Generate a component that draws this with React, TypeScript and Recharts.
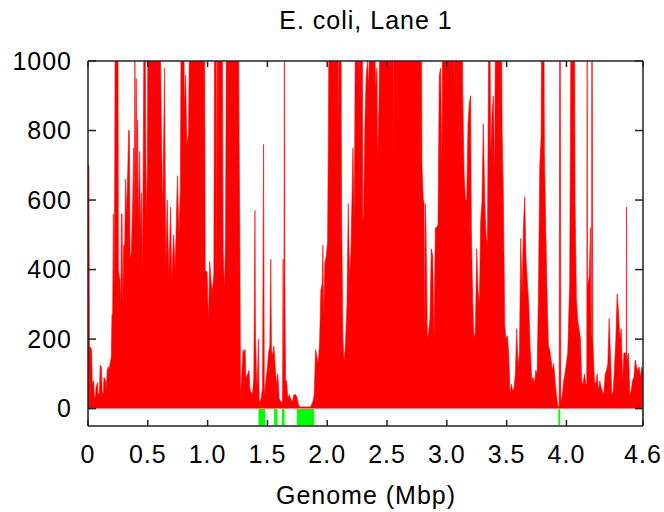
import { AreaChart, Area, XAxis, YAxis, ReferenceArea } from 'recharts'

// genome position (Mbp) and read depth; values above 1000 are clipped peaks
const mbp = [
  0.0, 0.008, 0.012, 0.03, 0.036, 0.048, 0.052, 0.062, 0.066, 0.08,
  0.084, 0.095, 0.102, 0.112, 0.118, 0.128, 0.133, 0.148, 0.153, 0.16,
  0.17, 0.176, 0.185, 0.195, 0.2, 0.206, 0.212, 0.218, 0.223, 0.228,
  0.25, 0.254, 0.262, 0.268, 0.274, 0.28, 0.285, 0.29, 0.298, 0.307,
  0.314, 0.322, 0.332, 0.34, 0.346, 0.352, 0.362, 0.374, 0.382, 0.387,
  0.392, 0.398, 0.403, 0.409, 0.415, 0.422, 0.432, 0.438, 0.448, 0.454,
  0.462, 0.468, 0.478, 0.484, 0.49, 0.496, 0.502, 0.6, 0.614, 0.625,
  0.64, 0.65, 0.662, 0.676, 0.69, 0.7, 0.716, 0.728, 0.748, 0.76,
  0.772, 0.78, 0.798, 0.806, 0.816, 0.826, 0.84, 0.852, 0.974, 0.98,
  0.995, 1.007, 1.018, 1.029, 1.041, 1.052, 1.058, 1.072, 1.077, 1.082,
  1.122, 1.13, 1.141, 1.15, 1.158, 1.258, 1.264, 1.269, 1.275, 1.286,
  1.296, 1.303, 1.314, 1.32, 1.325, 1.336, 1.347, 1.352, 1.358, 1.375,
  1.386, 1.396, 1.4, 1.408, 1.414, 1.425, 1.431, 1.437, 1.448, 1.459,
  1.468, 1.474, 1.487, 1.498, 1.509, 1.52, 1.528, 1.534, 1.542, 1.554,
  1.565, 1.576, 1.587, 1.598, 1.609, 1.626, 1.631, 1.637, 1.642, 1.645,
  1.652, 1.66, 1.671, 1.682, 1.693, 1.71, 1.721, 1.738, 1.749, 1.76,
  1.777, 1.86, 1.88, 1.891, 1.903, 1.914, 1.925, 1.936, 1.947, 1.958,
  1.964, 1.969, 1.98, 1.992, 2.003, 2.01, 2.016, 2.09, 2.096, 2.102,
  2.114, 2.12, 2.131, 2.142, 2.153, 2.165, 2.176, 2.187, 2.198, 2.215,
  2.226, 2.237, 2.25, 2.254, 2.262, 2.265, 2.276, 2.293, 2.298, 2.304,
  2.315, 2.326, 2.337, 2.348, 2.355, 2.393, 2.404, 2.416, 2.421, 2.432,
  2.444, 2.552, 2.555, 2.56, 2.787, 2.792, 2.803, 2.809, 2.814, 2.82,
  2.826, 2.837, 2.848, 2.859, 2.87, 2.882, 2.893, 2.904, 2.915, 2.926,
  2.937, 2.948, 2.959, 2.965, 3.058, 3.06, 3.063, 3.086, 3.088, 3.091,
  3.127, 3.133, 3.144, 3.155, 3.166, 3.177, 3.188, 3.199, 3.205, 3.216,
  3.227, 3.238, 3.25, 3.261, 3.272, 3.283, 3.294, 3.305, 3.317, 3.328,
  3.339, 3.344, 3.352, 3.358, 3.367, 3.378, 3.389, 3.4, 3.407, 3.456,
  3.462, 3.473, 3.484, 3.495, 3.506, 3.517, 3.529, 3.54, 3.551, 3.562,
  3.573, 3.584, 3.596, 3.607, 3.618, 3.629, 3.64, 3.651, 3.662, 3.674,
  3.685, 3.696, 3.71, 3.721, 3.732, 3.743, 3.755, 3.766, 3.777, 3.788,
  3.794, 3.81, 3.816, 3.827, 3.838, 3.849, 3.86, 3.872, 3.883, 3.894,
  3.905, 3.916, 3.927, 3.939, 3.944, 3.948, 3.953, 3.966, 3.977, 3.988,
  3.999, 4.011, 4.022, 4.027, 4.039, 4.067, 4.072, 4.083, 4.095, 4.106,
  4.117, 4.128, 4.139, 4.151, 4.162, 4.17, 4.173, 4.176, 4.19, 4.201,
  4.206, 4.21, 4.212, 4.215, 4.22, 4.234, 4.245, 4.257, 4.268, 4.279,
  4.29, 4.301, 4.312, 4.324, 4.335, 4.346, 4.357, 4.368, 4.379, 4.391,
  4.402, 4.413, 4.424, 4.435, 4.446, 4.458, 4.469, 4.48, 4.491, 4.5,
  4.502, 4.505, 4.519, 4.53, 4.541, 4.552, 4.564, 4.575, 4.586, 4.597,
  4.608, 4.619, 4.63, 4.64,
]

const depth = [
  700, 700, 180, 170, 70, 80, 40, 30, 60, 75,
  40, 45, 125, 120, 50, 40, 90, 80, 50, 110,
  120, 115, 130, 150, 270, 270, 560, 350, 640, 1200,
  1200, 400, 380, 370, 300, 560, 560, 280, 470, 470,
  660, 560, 680, 800, 800, 430, 450, 600, 750, 480,
  1050, 600, 950, 600, 830, 520, 740, 520, 620, 380,
  730, 1100, 1100, 710, 540, 700, 1200, 1200, 800, 560,
  980, 400, 600, 380, 580, 370, 500, 400, 670, 500,
  630, 1200, 1200, 860, 960, 760, 790, 1200, 1200, 395,
  395, 250, 423, 366, 337, 390, 1200, 1200, 350, 1200,
  1200, 452, 340, 500, 1200, 1200, 730, 520, 35, 100,
  170, 160, 170, 90, 90, 100, 110, 60, 50, 40,
  90, 570, 220, 100, 60, 200, 20, 20, 30, 60,
  760, 40, 80, 110, 160, 180, 430, 170, 150, 180,
  120, 70, 100, 30, 20, 20, 430, 40, 1200, 400,
  80, 80, 30, 40, 30, 20, 40, 40, 30, 10,
  5, 5, 20, 40, 170, 150, 130, 190, 340, 360,
  470, 260, 420, 440, 480, 820, 1200, 1200, 800, 1200,
  1200, 570, 200, 130, 190, 300, 590, 380, 450, 750,
  540, 1200, 1200, 960, 1200, 940, 1200, 1200, 540, 560,
  820, 960, 1000, 920, 1200, 1200, 920, 980, 700, 870,
  1200, 1200, 680, 1200, 1200, 700, 600, 596, 200, 590,
  520, 200, 220, 260, 460, 440, 200, 520, 520, 530,
  960, 980, 700, 1200, 1200, 860, 1200, 1200, 880, 1200,
  1200, 900, 680, 600, 600, 820, 880, 900, 520, 310,
  200, 220, 460, 340, 300, 540, 600, 820, 600, 500,
  460, 740, 1200, 1200, 730, 850, 900, 650, 1200, 1200,
  800, 600, 240, 200, 210, 160, 40, 70, 50, 60,
  100, 230, 120, 160, 490, 330, 520, 610, 430, 360,
  300, 180, 80, 90, 70, 110, 100, 340, 700, 780,
  1200, 1200, 730, 520, 330, 180, 170, 140, 110, 130,
  80, 40, 10, 5, 1200, 1200, 20, 40, 80, 100,
  130, 160, 300, 360, 1200, 1200, 600, 320, 250, 230,
  200, 80, 70, 100, 70, 70, 1200, 350, 380, 520,
  210, 210, 1200, 1200, 200, 80, 70, 100, 50, 80,
  60, 50, 40, 100, 110, 130, 260, 150, 40, 50,
  120, 200, 330, 280, 200, 230, 80, 160, 160, 160,
  580, 140, 160, 40, 50, 80, 90, 140, 120, 110,
  120, 90, 120, 110,
]

// green marks below the axis
const gapStart = [0, 1.425, 1.556, 1.621, 1.746, 3.932, 4.634]
const gapEnd = [0.004, 1.481, 1.584, 1.643, 1.891, 3.948, 4.64]

const xTicks = [0, 0.5, 1, 1.5, 2, 2.5, 3, 3.5, 4, 4.64]
const xTickLabels = ['0', '0.5', '1.0', '1.5', '2.0', '2.5', '3.0', '3.5', '4.0', '4.6']
const yTicks = [0, 200, 400, 600, 800, 1000]

const font = 'Liberation Sans, Arial, Helvetica, sans-serif'
const tickStyle = { fill: '#000', fontSize: 25, fontFamily: font, letterSpacing: 1 }
const lineStyle = { stroke: '#222', strokeWidth: 1.5 }

const rows = mbp.map((x, i) => ({ x, depth: depth[i] }))

const App = () => {
  return (
    <div style={{ position: 'absolute', left: 0, top: 0, width: 664, height: 512, background: '#fff' }}>
      <div
        style={{
          position: 'absolute', left: 166, top: 8, width: 400, textAlign: 'center',
          fontFamily: font, fontSize: 25, lineHeight: '25px', letterSpacing: 1, color: '#000',
        }}
      >
        E. coli, Lane 1
      </div>
      <AreaChart width={664} height={512} data={rows} margin={{ top: 51, right: 11, bottom: 46, left: 8 }}>
        <XAxis
          xAxisId="bottom"
          dataKey="x"
          type="number"
          domain={[0, 4.64]}
          allowDataOverflow
          ticks={xTicks}
          interval={0}
          tickFormatter={(v: number) => xTickLabels[xTicks.indexOf(v)] ?? ''}
          height={40}
          tickSize={-6}
          tickMargin={25}
          tick={tickStyle}
          axisLine={lineStyle}
          tickLine={lineStyle}
        />
        <XAxis
          xAxisId="top"
          orientation="top"
          dataKey="x"
          type="number"
          domain={[0, 4.64]}
          allowDataOverflow
          ticks={xTicks}
          interval={0}
          tickFormatter={() => ''}
          height={10}
          tickSize={-6}
          axisLine={lineStyle}
          tickLine={lineStyle}
        />
        <YAxis
          yAxisId="left"
          type="number"
          domain={[-50, 1000]}
          allowDataOverflow
          ticks={yTicks}
          interval={0}
          width={80}
          tickSize={-8}
          tickMargin={24}
          tick={tickStyle}
          axisLine={lineStyle}
          tickLine={lineStyle}
        />
        <YAxis
          yAxisId="right"
          orientation="right"
          type="number"
          domain={[-50, 1000]}
          allowDataOverflow
          ticks={yTicks}
          interval={0}
          tickFormatter={() => ''}
          width={10}
          tickSize={-8}
          axisLine={lineStyle}
          tickLine={lineStyle}
        />
        <Area
          xAxisId="bottom"
          yAxisId="left"
          type="linear"
          dataKey="depth"
          stroke="#ff0000"
          strokeWidth={0.6}
          fill="#ff0000"
          fillOpacity={1}
          baseValue={0}
          dot={false}
          activeDot={false}
          isAnimationActive={false}
        />
        {gapStart.map((s, i) => (
          <ReferenceArea
            key={`gap-${i}`}
            xAxisId="bottom"
            yAxisId="left"
            x1={s}
            x2={gapEnd[i]}
            y1={-48}
            y2={-1}
            fill="#00ff00"
            fillOpacity={1}
            stroke="none"
          />
        ))}
      </AreaChart>
      <div
        style={{
          position: 'absolute', left: 166, top: 483, width: 400, textAlign: 'center',
          fontFamily: font, fontSize: 25, lineHeight: '25px', letterSpacing: 1, color: '#000',
        }}
      >
        Genome (Mbp)
      </div>
    </div>
  )
}

export default App
